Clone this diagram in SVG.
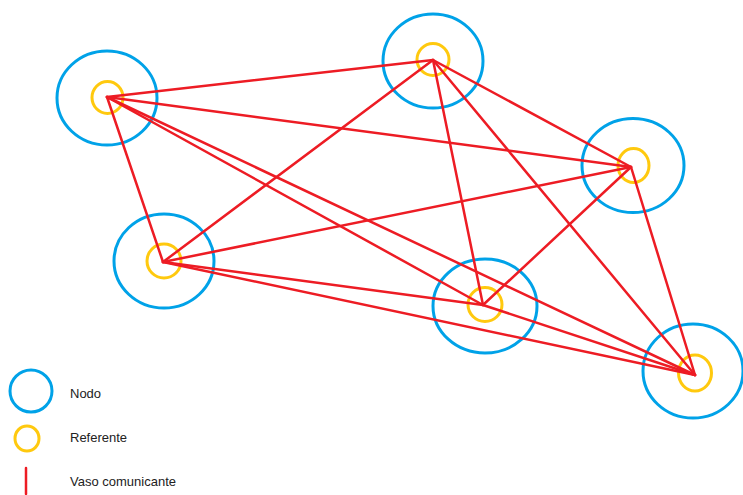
<svg xmlns="http://www.w3.org/2000/svg" width="743" height="495" viewBox="0 0 743 495">
<style>
.nodo{fill:none;stroke:#00a2e8;stroke-width:3}
.ref{fill:none;stroke:#ffc90e;stroke-width:3}
.vaso{stroke:#ed1c24;stroke-width:2.5;fill:none;stroke-linecap:round}
.lbl{font-family:"Liberation Sans",Arial,sans-serif;font-size:13px;fill:#222}
</style>
<rect width="743" height="495" fill="#fff"/>
<g id="n1"><ellipse class="nodo" cx="107" cy="98" rx="50" ry="47"/><ellipse class="ref" cx="107.5" cy="97.5" rx="15.5" ry="16"/></g>
<g id="n2"><ellipse class="nodo" cx="433" cy="61" rx="50" ry="47"/><ellipse class="ref" cx="433" cy="59.5" rx="16" ry="16"/></g>
<g id="n3"><ellipse class="nodo" cx="633" cy="165.5" rx="51" ry="47"/><ellipse class="ref" cx="633.5" cy="165.5" rx="15.5" ry="17"/></g>
<g id="n4"><ellipse class="nodo" cx="164" cy="261" rx="50" ry="47"/><ellipse class="ref" cx="164" cy="261" rx="17" ry="17"/></g>
<g id="n5"><ellipse class="nodo" cx="485" cy="306" rx="52" ry="47"/><ellipse class="ref" cx="485" cy="304.5" rx="17" ry="17"/></g>
<g id="n6"><ellipse class="nodo" cx="693" cy="371" rx="50" ry="47"/><ellipse class="ref" cx="695" cy="373" rx="16.5" ry="18"/></g>
<g id="vasos" class="vaso">
<line x1="107" y1="97" x2="433" y2="60"/>
<line x1="107" y1="97" x2="631" y2="167"/>
<line x1="107" y1="97" x2="163" y2="262"/>
<line x1="107" y1="97" x2="483" y2="305"/>
<line x1="107" y1="97" x2="695" y2="375"/>
<line x1="433" y1="60" x2="631" y2="167"/>
<line x1="433" y1="60" x2="163" y2="262"/>
<line x1="433" y1="60" x2="483" y2="305"/>
<line x1="433" y1="60" x2="695" y2="375"/>
<line x1="631" y1="167" x2="163" y2="262"/>
<line x1="631" y1="167" x2="483" y2="305"/>
<line x1="631" y1="167" x2="695" y2="375"/>
<line x1="163" y1="262" x2="483" y2="305"/>
<line x1="163" y1="262" x2="695" y2="375"/>
<line x1="483" y1="305" x2="695" y2="375"/>
</g>
<g id="legenda">
<circle class="nodo" cx="31" cy="391" r="21"/>
<ellipse class="ref" cx="27" cy="438.5" rx="12" ry="12.5"/>
<line class="vaso" x1="26" y1="468" x2="26" y2="494" stroke-linecap="butt"/>
<text class="lbl" x="70" y="398">Nodo</text>
<text class="lbl" x="70" y="442">Referente</text>
<text class="lbl" x="70" y="486">Vaso comunicante</text>
</g>
</svg>
